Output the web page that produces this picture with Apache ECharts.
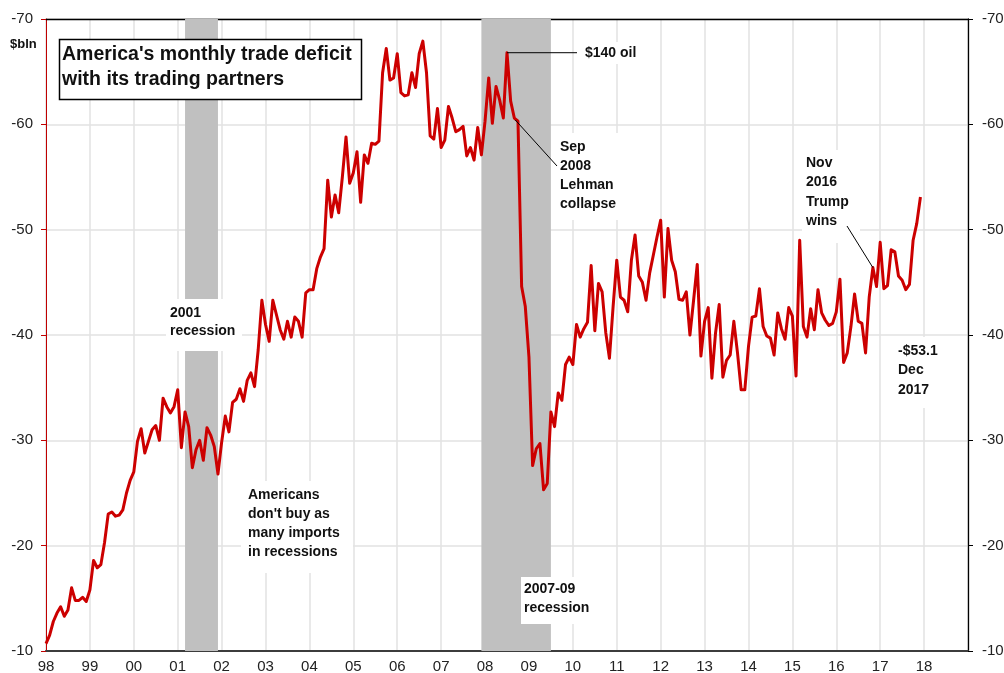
<!DOCTYPE html>
<html><head><meta charset="utf-8">
<script src="https://cdn.jsdelivr.net/npm/echarts@6/dist/echarts.min.js"></script>
<style>html,body{margin:0;padding:0;background:#fff}#c{width:1004px;height:673px}</style>
</head><body><div id="c"></div>
<script>
// ---- data (monthly US trade balance, $bln), Jan 1998 .. Dec 2017 ----
const startYear = 1998;
const deficit = [
  -10.7, -11.5, -12.8, -13.6, -14.2, -13.3, -13.9, -16.0, -14.8, -14.8, -15.1, -14.7, // 1998
  -15.8, -18.6, -17.9, -18.2, -20.3, -23.0, -23.2, -22.8, -22.9, -23.4, -25.0, -26.2, // 1999
  -27.0, -29.9, -31.1, -28.8, -29.9, -31.0, -31.4, -30.0, -34.0, -33.2, -32.6, -33.2, // 2000
  -34.8, -29.3, -32.7, -31.3, -27.4, -29.1, -30.0, -28.1, -31.2, -30.5, -29.4, -26.8, // 2001
  -29.8, -32.3, -30.8, -33.6, -33.9, -34.9, -33.7, -35.7, -36.4, -35.1, -38.6, -43.3, // 2002
  -41.0, -39.4, -43.3, -41.9, -40.5, -39.6, -41.3, -39.8, -41.7, -41.3, -39.8, -44.0, // 2003
  -44.3, -44.3, -46.3, -47.4, -48.2, -54.7, -51.2, -53.3, -51.6, -55.0, -58.8, -54.4, // 2004
  -55.4, -57.4, -52.6, -57.1, -56.3, -58.2, -58.1, -58.4, -64.9, -67.2, -64.2, -64.4, // 2005
  -66.7, -63.0, -62.7, -62.8, -64.9, -63.5, -66.7, -67.9, -64.9, -58.9, -58.6, -61.5, // 2006
  -57.8, -58.5, -61.7, -60.6, -59.3, -59.5, -59.8, -57.0, -57.8, -56.6, -59.7, -57.1, // 2007
  -60.3, -64.4, -60.1, -63.6, -62.3, -60.6, -66.8, -62.2, -60.6, -60.3, -44.6, -42.7, // 2008
  -37.9, -27.6, -29.2, -29.7, -25.3, -25.9, -32.7, -31.3, -34.5, -33.8, -37.2, -37.9, // 2009
  -37.2, -41.0, -39.8, -40.6, -41.2, -46.6, -40.4, -44.9, -44.1, -40.2, -37.8, -42.7, // 2010
  -47.1, -43.6, -43.3, -42.2, -47.1, -49.5, -45.6, -45.0, -43.3, -45.9, -47.6, -49.3, // 2011
  -50.9, -43.6, -50.1, -47.1, -46.0, -43.4, -43.3, -44.1, -40.0, -43.3, -46.7, -38.0, // 2012
  -41.3, -42.6, -35.9, -40.2, -42.9, -36.0, -37.6, -38.1, -41.3, -38.3, -34.8, -34.8, // 2013
  -38.9, -41.7, -41.8, -44.4, -40.8, -39.9, -39.7, -38.1, -42.1, -40.6, -39.6, -42.6, // 2014
  -41.8, -36.1, -49.0, -40.8, -39.8, -42.5, -40.5, -44.3, -42.1, -41.4, -40.9, -41.1, // 2015
  -42.2, -45.3, -37.4, -38.3, -40.8, -43.9, -41.3, -41.1, -38.3, -43.6, -46.4, -44.6, // 2016
  -48.8, -44.4, -44.7, -48.1, -47.9, -45.6, -45.2, -44.3, -44.8, -49.0, -50.6, -53.1  // 2017
];
const yearLabels = ['98','99','00','01','02','03','04','05','06','07','08','09','10','11','12','13','14','15','16','17','18'];
const yTicks = [-70, -60, -50, -40, -30, -20, -10];
const recessions = [[2001 + 2/12, 2001 + 11/12], [2007 + 11/12, 2009 + 6/12]];
const events = { oil: [2008, 6], lehman: [2008, 8], trump: [2016, 10] }; // [year, monthIndex]

const FONT = '"Liberation Sans", Arial, Helvetica, sans-serif';
const seriesData = deficit.map((v, i) => [startYear + i / 12, v]);

const chart = echarts.init(document.getElementById('c'), null, { renderer: 'canvas' });
const baseOption = {
  animation: false,
  backgroundColor: '#fff',
  grid: { left: 46, right: 36, top: 19, bottom: 22, containLabel: false, outerBoundsMode: 'none' },
  xAxis: [
    {
      type: 'value', min: 1998, max: 2019, interval: 1, position: 'bottom',
      axisLine: { show: true, onZero: false, lineStyle: { color: '#3c3c3c', width: 2.2 } },
      axisTick: { show: false },
      axisLabel: {
        fontSize: 15, color: '#222', margin: 8, fontFamily: FONT,
        formatter: v => { const k = Math.round(v) - 1998; return yearLabels[k] !== undefined ? yearLabels[k] : ''; }
      },
      splitLine: { show: true, lineStyle: { color: '#e2e2e2', width: 1.5 } }
    },
    {
      type: 'value', min: 1998, max: 2019, position: 'top',
      axisLine: { show: true, onZero: false, lineStyle: { color: '#000', width: 1.3 } },
      axisTick: { show: false }, axisLabel: { show: false }, splitLine: { show: false }
    }
  ],
  yAxis: [
    {
      type: 'value', min: yTicks[0], max: yTicks[yTicks.length - 1], interval: 10, inverse: true, position: 'left',
      axisLine: { show: true, onZero: false, lineStyle: { color: '#c00000', width: 1 } },
      axisTick: { show: true, length: 5, lineStyle: { color: '#c00000', width: 1 } },
      axisLabel: { fontSize: 15, color: '#222', margin: 13, fontFamily: FONT },
      splitLine: { show: true, lineStyle: { color: '#e2e2e2', width: 1.5 } }
    },
    {
      type: 'value', min: yTicks[0], max: yTicks[yTicks.length - 1], interval: 10, inverse: true, position: 'right',
      axisLine: { show: true, onZero: false, lineStyle: { color: '#000', width: 1.3 } },
      axisTick: { show: true, length: 5, lineStyle: { color: '#000', width: 1 } },
      axisLabel: { fontSize: 15, color: '#222', margin: 14, fontFamily: FONT },
      splitLine: { show: false }
    }
  ],
  series: [
    {
      name: 'bands', type: 'line', data: [], z: 1, silent: true,
      markArea: {
        silent: true, itemStyle: { color: '#c0c0c0' },
        data: recessions.map(r => [{ xAxis: r[0] }, { xAxis: r[1] }])
      }
    },
    {
      name: 'deficit', type: 'line', data: seriesData, z: 5, showSymbol: false, symbol: 'none',
      lineStyle: { color: '#cc0000', width: 3, join: 'round' }
    }
  ]
};
chart.setOption(baseOption);

function px(ev) {
  const i = (ev[0] - startYear) * 12 + ev[1];
  return chart.convertToPixel({ xAxisIndex: 0, yAxisIndex: 0 }, seriesData[i]);
}
const pOil = px(events.oil), pLeh = px(events.lehman), pTrump = px(events.trump);

function box(x, y, w, h) {
  return { type: 'rect', z: 3, shape: { x, y, width: w, height: h }, style: { fill: '#fff' }, silent: true };
}
function txt(x, y, text, size, lh, z) {
  return { type: 'text', z: z || 4, silent: true,
    style: { x, y, text, fill: '#111', font: 'bold ' + size + 'px ' + FONT, lineHeight: lh, verticalAlign: 'top', align: 'left' } };
}
function line(a, b) {
  return { type: 'line', z: 6, silent: true, shape: { x1: a[0], y1: a[1], x2: b[0], y2: b[1] }, style: { stroke: '#000', lineWidth: 1 } };
}

const graphics = [
  // recession labels
  box(166, 299, 76, 52), txt(170, 304, '2001\nrecession', 14, 18),
  box(521, 577, 72, 47), txt(524, 580, '2007-09\nrecession', 14, 18.5),
  // commentary
  box(241, 481, 112, 92), txt(248, 485.5, "Americans\ndon't buy as\nmany imports\nin recessions", 14, 19),
  box(578, 42, 70, 22), txt(585, 44, '$140 oil', 14, 18),
  box(555, 133, 66, 87), txt(560, 137, 'Sep\n2008\nLehman\ncollapse', 14, 19.3),
  box(802, 150, 58, 93), txt(806, 153.5, 'Nov\n2016\nTrump\nwins', 14, 19.3),
  box(893, 337, 62, 71), txt(898, 341, '-$53.1\nDec\n2017', 14, 19.5),
  // pointers
  line([pOil[0], pOil[1]], [577, pOil[1]]),
  line([pLeh[0] + 1, pLeh[1] + 2], [557, 166]),
  line([847, 226], [pTrump[0], pTrump[1]]),
  // title
  { type: 'rect', z: 10, silent: true, shape: { x: 59.5, y: 39.5, width: 302, height: 60 }, style: { fill: '#fff', stroke: '#000', lineWidth: 1.5 } },
  txt(62, 42.5, "America's monthly trade deficit\nwith its trading partners", 19.5, 25, 11),
  // unit
  txt(10, 36, '$bln', 13, 16, 11)
];
chart.setOption({ graphic: graphics });
</script>
</body></html>
